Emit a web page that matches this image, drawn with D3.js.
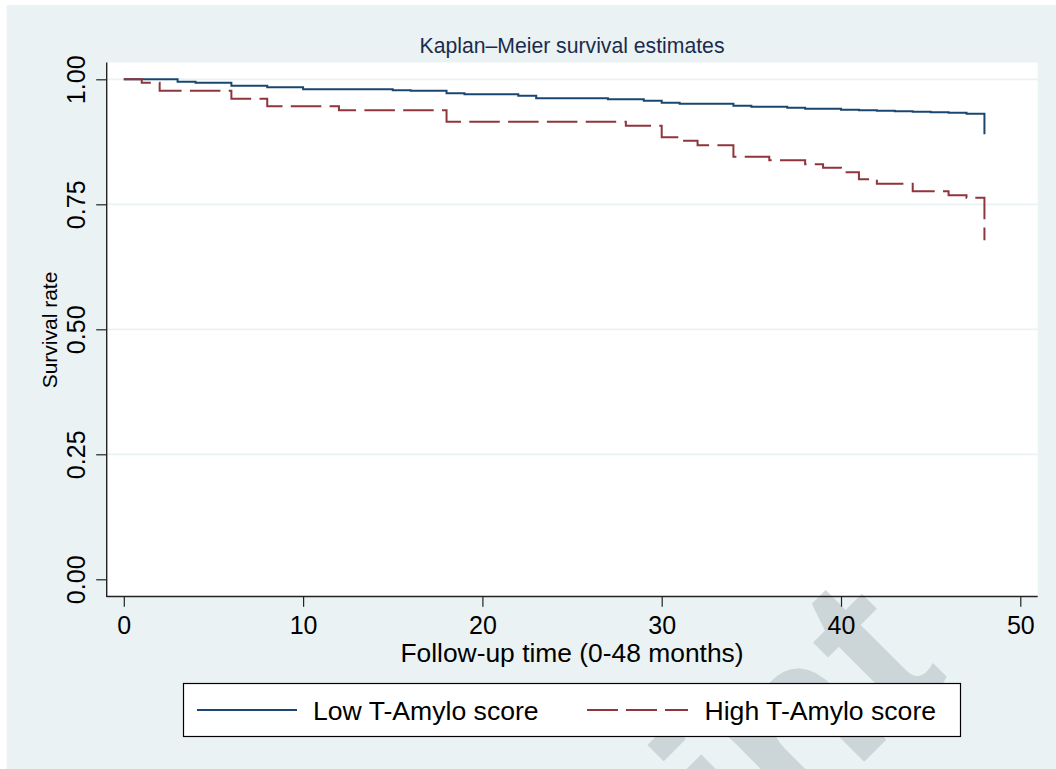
<!DOCTYPE html>
<html>
<head>
<meta charset="utf-8">
<script src="https://cdn.jsdelivr.net/npm/d3@7"></script>
<style>
  html, body { margin: 0; padding: 0; background: #ffffff; }
  svg { display: block; }
  text { font-family: "Liberation Sans", Arial, Helvetica, sans-serif; }
</style>
</head>
<body>
<svg id="chart" width="1056" height="769"></svg>
<script>
// ---- data ----
const xTicks = [0, 10, 20, 30, 40, 50];
const yTicks = [0.00, 0.25, 0.50, 0.75, 1.00];
const yTickLabels = ["0.00", "0.25", "0.50", "0.75", "1.00"];
const seriesNames = ["Low T-Amylo score", "High T-Amylo score"];

const lowTimes = [0, 3, 4, 6, 8, 10, 15, 16, 18, 19, 22, 23, 27, 29, 30, 31, 34, 35, 37, 38, 40, 41, 42, 43, 44, 45, 46, 47, 48];
const lowSurv  = [1.000, 0.995, 0.993, 0.987, 0.984, 0.980, 0.978, 0.977, 0.972, 0.970, 0.967, 0.962, 0.960, 0.957, 0.953, 0.951, 0.947, 0.945, 0.943, 0.941, 0.939, 0.938, 0.937, 0.936, 0.935, 0.934, 0.933, 0.931, 0.890];

const highTimes = [0, 1, 2, 6, 8, 12, 18, 28, 30, 31, 32, 34, 36, 38, 39, 40, 41, 42, 44, 46, 47, 48];
const highSurv  = [1.000, 0.993, 0.977, 0.961, 0.946, 0.938, 0.915, 0.907, 0.884, 0.877, 0.868, 0.845, 0.838, 0.830, 0.823, 0.814, 0.800, 0.791, 0.776, 0.768, 0.763, 0.678];

const titleText = "Kaplan\u2013Meier survival estimates";
const xTitle = "Follow-up time (0-48 months)";
const yTitle = "Survival rate";
const watermarkText = "Print";

// ---- layout ----
const svg = d3.select("#chart");
const W = 1056, H = 769;
const plot = { left: 106.7, right: 1037.7, top: 62.5, bottom: 596.5 };
const colors = ["#1a476f", "#90353b"];
const bg = "#eaf2f3";

const x = d3.scaleLinear().domain([0, 50]).range([123.8, 1020.3]);
const y = d3.scaleLinear().domain([0, 1]).range([579.3, 79.3]);

// graph region background
svg.append("rect").attr("x", 6.7).attr("y", 5).attr("width", W - 6.7).attr("height", H - 5).attr("fill", bg);

// plot region
svg.append("rect").attr("x", plot.left).attr("y", plot.top)
  .attr("width", plot.right - plot.left).attr("height", plot.bottom - plot.top).attr("fill", "#ffffff");

// gridlines
svg.append("g").selectAll("line").data(yTicks.filter(d => d > 0)).join("line")
  .attr("x1", plot.left).attr("x2", plot.right)
  .attr("y1", d => y(d)).attr("y2", d => y(d))
  .attr("stroke", bg).attr("stroke-width", 1.8);

// watermark (partial, rotated) – behind marks, axes and legend
svg.append("text")
  .attr("transform", "translate(950,676) rotate(-45)")
  .attr("text-anchor", "end")
  .attr("font-size", 228).attr("font-weight", "bold")
  .attr("fill", "rgb(186,195,198)").attr("fill-opacity", 0.62)
  .text(watermarkText);

// series
const line = d3.line().x(d => x(d[0])).y(d => y(d[1])).curve(d3.curveStepAfter);
const lowData = lowTimes.map((t, i) => [t, lowSurv[i]]);
const highData = highTimes.map((t, i) => [t, highSurv[i]]);

svg.append("path").datum(lowData).attr("d", line)
  .attr("fill", "none").attr("stroke", colors[0]).attr("stroke-width", 2);
svg.append("path").datum(highData).attr("d", line)
  .attr("fill", "none").attr("stroke", colors[1]).attr("stroke-width", 2)
  .attr("stroke-dasharray", "30.5,8.3");

// axes
const yAxis = svg.append("g").attr("transform", `translate(${plot.left},0)`)
  .call(d3.axisLeft(y).tickValues(yTicks).tickFormat((d, i) => yTickLabels[i]).tickSize(10.5).tickSizeOuter(0));
yAxis.select(".domain").remove();
yAxis.selectAll(".tick line").attr("stroke", "#222").attr("stroke-width", 1.2);
yAxis.selectAll(".tick text")
  .attr("x", null).attr("dy", null)
  .attr("text-anchor", "middle")
  .attr("transform", "translate(-21.5,0) rotate(-90)")
  .attr("font-size", 25).attr("fill", "#000")
  .style("font-family", "'Liberation Sans', Arial, sans-serif");

const xAxis = svg.append("g").attr("transform", `translate(0,${plot.bottom})`)
  .call(d3.axisBottom(x).tickValues(xTicks).tickFormat(d3.format("d")).tickSize(10.2).tickSizeOuter(0));
xAxis.select(".domain").remove();
xAxis.selectAll(".tick line").attr("stroke", "#222").attr("stroke-width", 1.2);
xAxis.selectAll(".tick text")
  .attr("y", 37).attr("dy", null)
  .attr("font-size", 25).attr("fill", "#000")
  .style("font-family", "'Liberation Sans', Arial, sans-serif");

// axis lines
svg.append("line").attr("x1", plot.left).attr("x2", plot.left).attr("y1", plot.top).attr("y2", plot.bottom + 0.6)
  .attr("stroke", "#222").attr("stroke-width", 1.4);
svg.append("line").attr("x1", plot.left).attr("x2", plot.right).attr("y1", plot.bottom).attr("y2", plot.bottom)
  .attr("stroke", "#222").attr("stroke-width", 1.4);

// titles
svg.append("text").attr("x", 572).attr("y", 52.5).attr("text-anchor", "middle")
  .attr("font-size", 21.2).attr("fill", "#1c2b4c").text(titleText);
svg.append("text").attr("x", 572).attr("y", 662).attr("text-anchor", "middle")
  .attr("font-size", 26.4).attr("fill", "#000").text(xTitle);
svg.append("text").attr("transform", "translate(57,330) rotate(-90)").attr("text-anchor", "middle")
  .attr("font-size", 21).attr("fill", "#000").text(yTitle);

// legend
const legend = svg.append("g");
legend.append("rect").attr("x", 183.5).attr("y", 683.5).attr("width", 777).attr("height", 53)
  .attr("fill", "#fff").attr("stroke", "#000").attr("stroke-width", 1.2);
const legItems = [
  { name: seriesNames[0], color: colors[0], x1: 197, x2: 297, tx: 313, dash: null },
  { name: seriesNames[1], color: colors[1], x1: 587, x2: 688, tx: 704.5, dash: "31,8" }
];
legItems.forEach(it => {
  legend.append("line").attr("x1", it.x1).attr("x2", it.x2).attr("y1", 710).attr("y2", 710)
    .attr("stroke", it.color).attr("stroke-width", 2).attr("stroke-dasharray", it.dash);
  legend.append("text").attr("x", it.tx).attr("y", 719.5).attr("font-size", 26.6).attr("fill", "#000").text(it.name);
});
</script>
</body>
</html>
